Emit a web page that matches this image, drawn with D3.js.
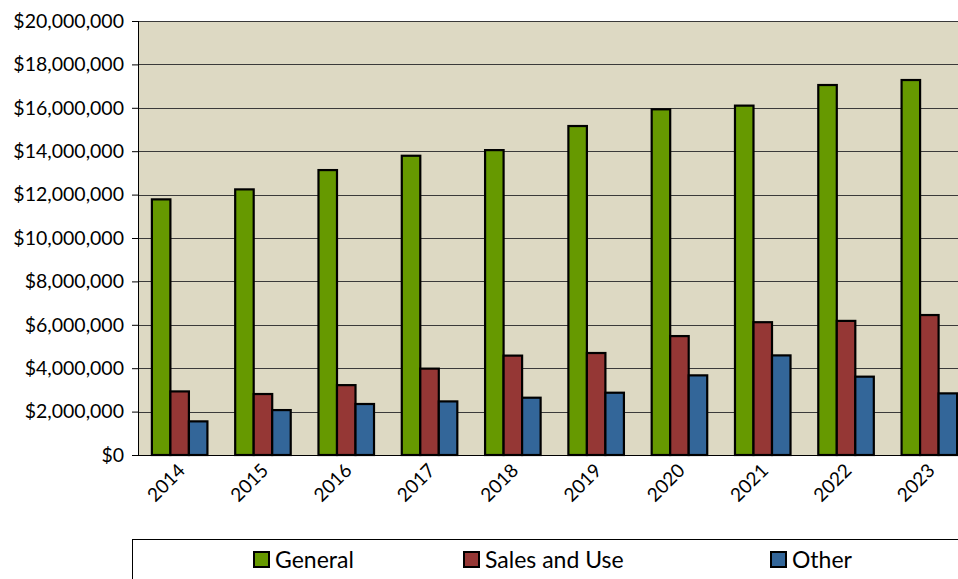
<!DOCTYPE html>
<html>
<head>
<meta charset="utf-8">
<script src="https://cdn.jsdelivr.net/npm/d3@7"></script>
<style>
  html, body { margin: 0; padding: 0; background: #fff; overflow: hidden; }
  svg { display: block; }
  text { font-family: Lato, "Open Sans", sans-serif; fill: #000; }
</style>
</head>
<body>
<div id="chart"></div>
<script>
// data
var years = ["2014", "2015", "2016", "2017", "2018", "2019", "2020", "2021", "2022", "2023"];
var seriesNames = ["General", "Sales and Use", "Other"];
var general = [11780000, 12240000, 13130000, 13790000, 14050000, 15160000, 15930000, 16100000, 17050000, 17280000];
var salesAndUse = [2930000, 2810000, 3220000, 3980000, 4580000, 4700000, 5480000, 6120000, 6180000, 6450000];
var other = [1550000, 2070000, 2350000, 2470000, 2640000, 2870000, 3670000, 4590000, 3610000, 2840000];
var yTicks = [0, 2000000, 4000000, 6000000, 8000000, 10000000, 12000000, 14000000, 16000000, 18000000, 20000000];
var colors = ["#669900", "#953735", "#336699"];

var width = 958, height = 579;
var plot = { left: 138, top: 21, right: 971, bottom: 455 };

var svg = d3.select("#chart").append("svg")
    .attr("width", width)
    .attr("height", height);

var x0 = d3.scaleBand()
    .domain(years)
    .range([plot.left, plot.right])
    .paddingInner(1 / 3)
    .paddingOuter(1 / 6);

var x1 = d3.scaleBand()
    .domain(seriesNames)
    .range([0, x0.bandwidth()]);

var y = d3.scaleLinear()
    .domain([0, 20000000])
    .range([plot.bottom, plot.top]);

var values = [general, salesAndUse, other];
var rows = years.map(function (yr, i) {
    return { year: yr, vals: seriesNames.map(function (s, k) { return { name: s, value: values[k][i], color: colors[k] }; }) };
});

// plot background
svg.append("rect")
    .attr("x", plot.left).attr("y", plot.top)
    .attr("width", plot.right - plot.left).attr("height", plot.bottom - plot.top)
    .attr("fill", "#ddd9c3");

// y axis with gridlines
var yAxis = d3.axisLeft(y)
    .tickValues(yTicks)
    .tickSize(6)
    .tickPadding(8)
    .tickFormat(function (d) { return "$" + d3.format(",")(d); });

var gy = svg.append("g")
    .attr("transform", "translate(" + plot.left + ",0)")
    .call(yAxis);
gy.select(".domain").remove();
gy.selectAll(".tick line").attr("stroke", "#000");
gy.selectAll(".tick text")
    .style("font-size", "19.5px")
    .style("font-family", "Lato, sans-serif");

svg.append("g")
    .selectAll("line")
    .data(yTicks)
    .join("line")
    .attr("x1", plot.left).attr("x2", plot.right)
    .attr("y1", function (d) { return Math.round(y(d)) + 0.5; })
    .attr("y2", function (d) { return Math.round(y(d)) + 0.5; })
    .attr("stroke", function (d) { return d === 0 ? "#000" : "#3a3a3a"; })
    .attr("stroke-width", 1);

// bars
svg.append("g")
    .selectAll("g")
    .data(rows)
    .join("g")
    .attr("transform", function (d) { return "translate(" + x0(d.year) + ",0)"; })
    .selectAll("rect")
    .data(function (d) { return d.vals; })
    .join("rect")
    .attr("x", function (d) { return x1(d.name); })
    .attr("y", function (d) { return y(d.value); })
    .attr("width", x1.bandwidth())
    .attr("height", function (d) { return y(0) - y(d.value); })
    .attr("fill", function (d) { return d.color; })
    .attr("stroke", "#000")
    .attr("stroke-width", 2.2);

// left axis line
svg.append("line")
    .attr("x1", plot.left + 0.5).attr("x2", plot.left + 0.5)
    .attr("y1", plot.top).attr("y2", plot.bottom)
    .attr("stroke", "#000");

// x axis labels, rotated
var xAxis = d3.axisBottom(x0).tickSize(0).tickPadding(0);
var gx = svg.append("g")
    .attr("transform", "translate(0," + plot.bottom + ")")
    .call(xAxis);
gx.select(".domain").remove();
gx.selectAll(".tick text")
    .style("font-size", "19px")
    .style("font-family", "Lato, sans-serif")
    .attr("text-anchor", "end")
    .attr("dy", "0.35em")
    .attr("transform", "translate(2,12) rotate(-45)");

// legend
var legend = svg.append("g");
legend.append("rect")
    .attr("x", 132.5).attr("y", 539.5)
    .attr("width", 900).attr("height", 100)
    .attr("fill", "#fff")
    .attr("stroke", "#000")
    .attr("stroke-width", 1);

var legendOffsets = { "General": 254, "Sales and Use": 464, "Other": 771 };

var items = legend.selectAll("g.item")
    .data(seriesNames)
    .join("g")
    .attr("class", "item")
    .attr("transform", function (d) { return "translate(" + legendOffsets[d] + ",552)"; });
items.append("rect")
    .attr("width", 15).attr("height", 15)
    .attr("fill", function (d, i) { return colors[i]; })
    .attr("stroke", "#000")
    .attr("stroke-width", 2);
items.append("text")
    .attr("x", 21).attr("y", 8)
    .attr("dy", "0.36em")
    .style("font-size", "23px")
    .text(function (d) { return d; });
</script>
</body>
</html>
